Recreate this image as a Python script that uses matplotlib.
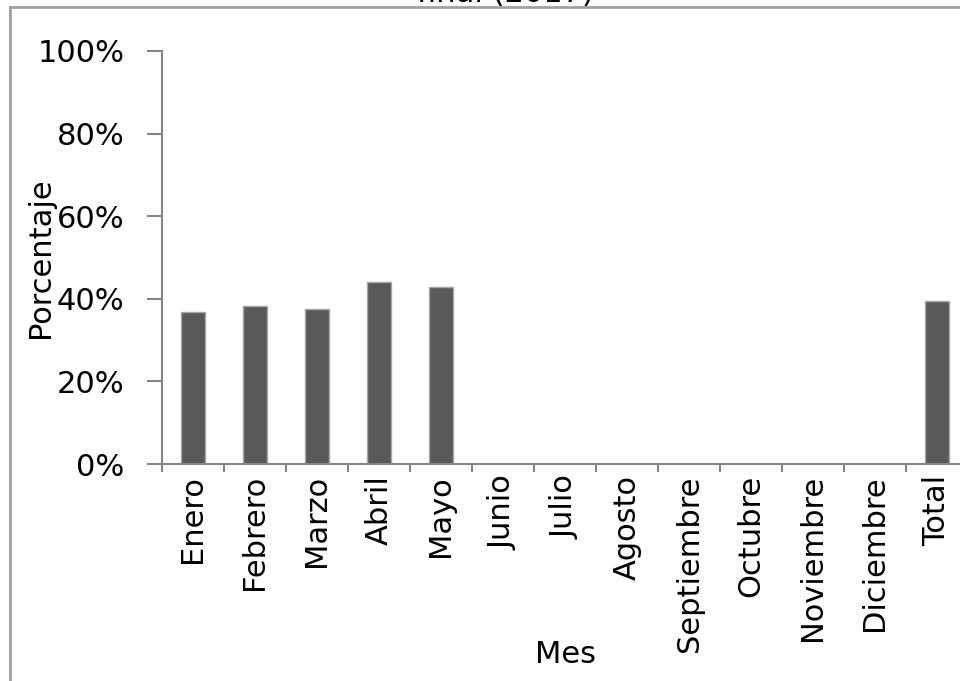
import numpy as np
import matplotlib
matplotlib.use("Agg")
import matplotlib.pyplot as plt
from matplotlib.lines import Line2D
from matplotlib.ticker import FixedLocator, PercentFormatter

meses = ["Enero", "Febrero", "Marzo", "Abril", "Mayo", "Junio", "Julio",
         "Agosto", "Septiembre", "Octubre", "Noviembre", "Diciembre", "Total"]
porcentaje = [0.368, 0.383, 0.375, 0.441, 0.429, None, None,
              None, None, None, None, None, 0.395]
titulo = "final (2017)"

W, H = 960, 681
fig = plt.figure(figsize=(W / 100, H / 100), dpi=100)

# plot area in pixels: y axis at x=162, 0% at y=464, 100% at y=51, 62 px per month
x0, y0, paso, alto = 162, 464, 62, 413
ax = fig.add_axes([x0 / W, (H - y0) / H, len(meses) * paso / W, alto / H])

valores = np.array([np.nan if v is None else v for v in porcentaje])
x = np.arange(len(meses))
ax.bar(x, valores, width=0.4, color="#595959", edgecolor="#a6a6a6", linewidth=1)

ax.set_xlim(-0.5, len(meses) - 0.5)
ax.set_ylim(0, 1)
gris = "#868686"
for lado in ("top", "right"):
    ax.spines[lado].set_visible(False)
for lado in ("left", "bottom"):
    ax.spines[lado].set_color(gris)
    ax.spines[lado].set_linewidth(1.5)

fs = 22
ax.set_yticks(np.linspace(0, 1, 6))
ax.yaxis.set_major_formatter(PercentFormatter(1.0, decimals=0))
ax.tick_params(axis="y", length=11, width=1.5, color=gris, pad=16, labelsize=fs)

ax.set_xticks(x)
ax.set_xticklabels(meses, rotation=90, va="top", ha="center")
ax.xaxis.set_minor_locator(FixedLocator(np.arange(-0.5, len(meses), 1.0)))
ax.tick_params(axis="x", which="major", length=0, pad=8, labelsize=fs)
ax.tick_params(axis="x", which="minor", length=6, width=1.5, color=gris)

ax.set_ylabel("Porcentaje", fontsize=fs, va="center")
ax.yaxis.set_label_coords(-0.151, 0.5)
ax.set_xlabel("Mes", fontsize=fs, va="center")
ax.xaxis.set_label_coords(0.5, -0.462)

# chart frame and the title above it (only its lower edge fits)
borde = "#a0a0a0"
fig.add_artist(Line2D([10 / W, 10 / W], [0, 1 - 7 / H], color=borde, lw=2,
                      transform=fig.transFigure))
fig.add_artist(Line2D([10 / W, 1], [1 - 7 / H, 1 - 7 / H], color=borde, lw=2,
                      transform=fig.transFigure))
fig.text(505 / W, 1 - 2 / H, titulo, ha="center", va="baseline", fontsize=fs)

fig.savefig("out.png", dpi=100)
